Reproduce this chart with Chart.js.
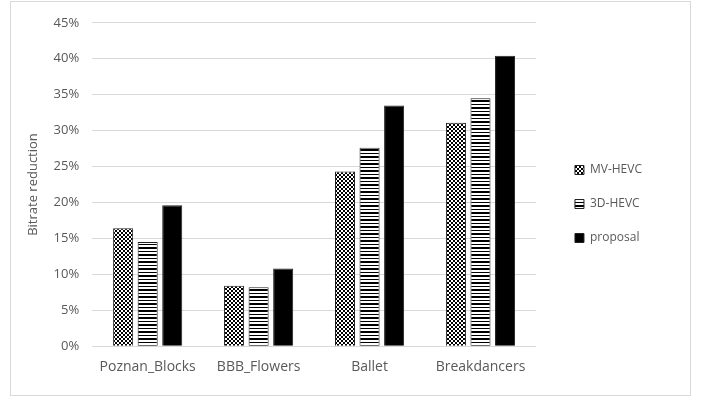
<!DOCTYPE html>
<html>
<head>
<meta charset="utf-8">
<script src="https://cdn.jsdelivr.net/npm/chart.js@4/dist/chart.umd.min.js"></script>
<style>
  html, body { margin: 0; padding: 0; background: #fff; }
  #frame {
    position: absolute; left: 10px; top: 1px;
    width: 679px; height: 393px;
    border: 1px solid #d9d9d9; background: #fff;
  }
  #frame canvas { display: block; }
</style>
</head>
<body>
<div id="frame"><canvas id="chart" width="679" height="393"></canvas></div>
<script>
// Sequences and bitrate reduction (%) for each coding scheme
const categories = ['Poznan_Blocks', 'BBB_Flowers', 'Ballet', 'Breakdancers'];
const mvHevc   = [16.4, 8.4, 24.3, 31.1];
const hevc3d   = [14.5, 8.2, 27.6, 34.5];
const proposal = [19.6, 10.8, 33.5, 40.4];
const seriesNames = ['MV-HEVC', '3D-HEVC', 'proposal'];
const yTicks = [0, 5, 10, 15, 20, 25, 30, 35, 40, 45];

// Fill patterns: checkerboard, horizontal stripes
function checkerPattern() {
  const c = document.createElement('canvas');
  c.width = 4; c.height = 4;
  const g = c.getContext('2d');
  g.fillStyle = '#fff'; g.fillRect(0, 0, 4, 4);
  g.fillStyle = '#000';
  g.fillRect(0, 0, 2, 2); g.fillRect(2, 2, 2, 2);
  return g.createPattern(c, 'repeat');
}
function stripePattern() {
  const c = document.createElement('canvas');
  c.width = 4; c.height = 7;
  const g = c.getContext('2d');
  g.fillStyle = '#fff'; g.fillRect(0, 0, 4, 7);
  g.fillStyle = '#000';
  g.fillRect(0, 0, 4, 2); g.fillRect(0, 4, 4, 1);
  return g.createPattern(c, 'repeat');
}

const font = "'Open Sans', 'Liberation Sans', sans-serif";
const textColor = '#595959';

new Chart(document.getElementById('chart'), {
  type: 'bar',
  data: {
    labels: categories,
    datasets: [
      { label: seriesNames[0], data: mvHevc, backgroundColor: checkerPattern(), borderColor: '#222', borderWidth: 1 },
      { label: seriesNames[1], data: hevc3d, backgroundColor: stripePattern(), borderColor: '#222', borderWidth: 1 },
      { label: seriesNames[2], data: proposal, backgroundColor: '#000', borderColor: '#222', borderWidth: 1 }
    ]
  },
  options: {
    responsive: false,
    animation: false,
    layout: { padding: { top: 10, right: 38, bottom: 16, left: 14 } },
    datasets: { bar: { categoryPercentage: 0.664, barPercentage: 0.816 } },
    scales: {
      x: {
        grid: { display: false },
        border: { display: true, color: '#d9d9d9' },
        ticks: { color: textColor, font: { family: font, size: 14 }, padding: 4 }
      },
      y: {
        min: 0, max: 45,
        afterBuildTicks: (axis) => { axis.ticks = yTicks.map(v => ({ value: v })); },
        grid: { color: '#d9d9d9', drawTicks: false },
        border: { display: false },
        ticks: {
          color: textColor, padding: 13,
          font: { family: font, size: 13 },
          callback: (v) => v + '%'
        },
        title: {
          display: true, text: 'Bitrate reduction', color: textColor,
          font: { family: font, size: 13 }, padding: { top: 0, bottom: 0 }
        }
      },
      // empty spacer between the plot and the legend
      gap: {
        type: 'linear', position: 'right', display: true,
        grid: { display: false }, border: { display: false },
        ticks: { display: false },
        afterFit: (s) => { s.width = 17; s.paddingTop = 0; s.paddingBottom = 0; }
      }
    },
    plugins: {
      legend: {
        position: 'right',
        title: { display: true, text: '', font: { size: 17, lineHeight: 1 }, padding: 0 },
        labels: {
          color: textColor,
          font: { family: font, size: 12 },
          boxWidth: 9, boxHeight: 9, padding: 22
        }
      },
      tooltip: { enabled: false }
    }
  }
});
</script>
</body>
</html>
